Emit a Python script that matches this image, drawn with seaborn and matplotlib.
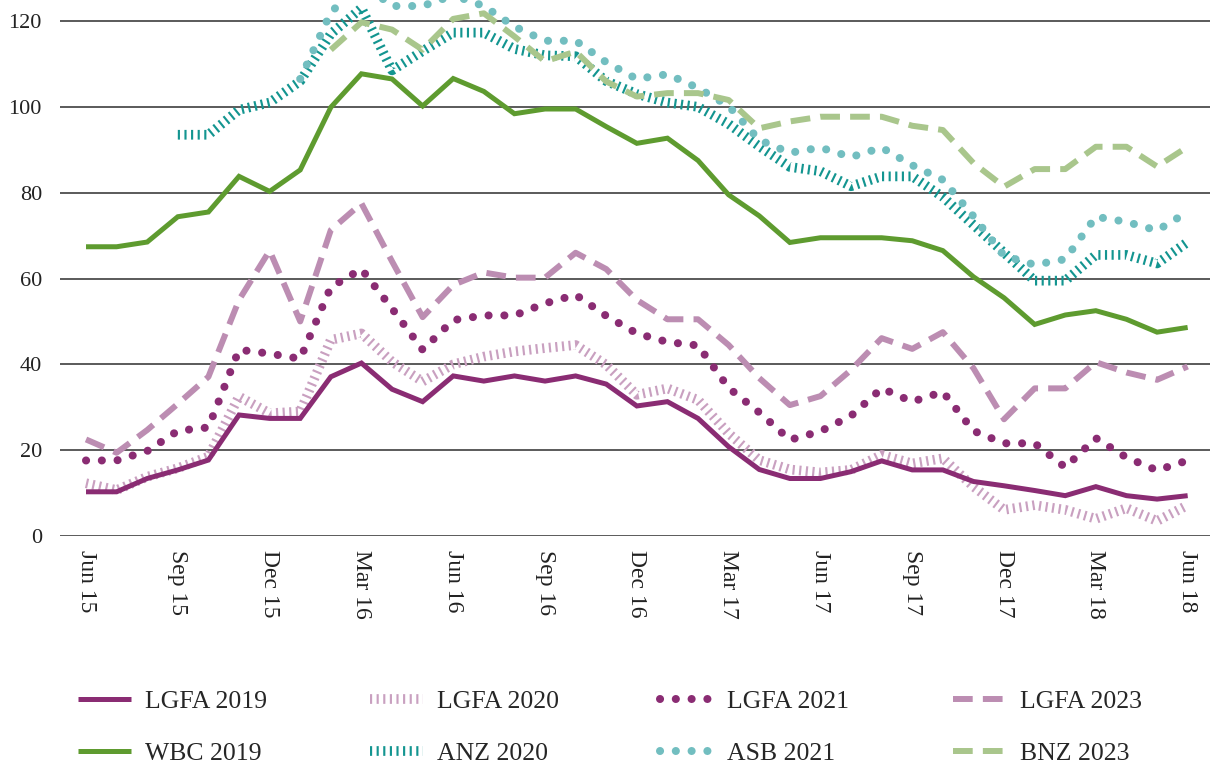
import numpy as np
import pandas as pd
import matplotlib
matplotlib.use("Agg")
import matplotlib.pyplot as plt
import seaborn as sns
from matplotlib.lines import Line2D

nan = np.nan

tick_labels = ["Jun 15", "Sep 15", "Dec 15", "Mar 16", "Jun 16", "Sep 16", "Dec 16",
               "Mar 17", "Jun 17", "Sep 17", "Dec 17", "Mar 18", "Jun 18"]

lgfa_2019 = [10.3, 10.3, 13.4, 15.4, 17.7, 28.2, 27.4, 27.4, 37.1, 40.3, 34.2, 31.3, 37.3,
             36.1, 37.3, 36.1, 37.3, 35.4, 30.3, 31.3, 27.4, 20.8, 15.5, 13.4, 13.4, 15.0,
             17.5, 15.4, 15.4, 12.7, 11.7, 10.6, 9.4, 11.5, 9.4, 8.6, 9.4]
lgfa_2020 = [12.3, 10.7, 13.8, 15.8, 18.5, 32.5, 28.6, 29.0, 45.7, 47.2, 40.6, 36.0, 40.0,
             41.8, 43.0, 43.8, 44.5, 39.9, 32.9, 34.4, 31.7, 23.9, 17.7, 15.5, 14.8, 15.4,
             18.9, 16.9, 18.1, 11.5, 6.1, 7.2, 6.1, 4.0, 6.5, 3.5, 7.2]
lgfa_2021 = [17.6, 17.6, 19.8, 24.5, 25.3, 43.4, 42.5, 41.3, 58.0, 62.2, 53.0, 43.4, 50.3,
             51.4, 51.4, 54.2, 56.2, 51.3, 47.2, 45.2, 44.4, 34.5, 28.8, 22.4, 24.4, 28.0,
             34.4, 31.3, 33.6, 24.5, 21.6, 21.6, 16.0, 22.8, 18.3, 15.3, 17.6]
lgfa_2023 = [22.5, 19.4, 24.7, 30.8, 37.1, 55.0, 66.5, 50.0, 71.3, 77.5, 64.0, 51.0, 58.5,
             61.4, 60.2, 60.2, 66.0, 62.2, 55.0, 50.5, 50.5, 44.5, 36.8, 30.5, 32.6, 38.7,
             46.1, 43.6, 47.5, 39.1, 27.2, 34.4, 34.4, 40.5, 38.1, 36.4, 39.5]
wbc_2019 = [67.4, 67.4, 68.5, 74.4, 75.5, 83.8, 80.3, 85.3, 99.9, 107.7, 106.5, 100.2, 106.6,
            103.6, 98.4, 99.5, 99.5, 95.4, 91.5, 92.7, 87.5, 79.5, 74.6, 68.4, 69.5, 69.5,
            69.5, 68.8, 66.5, 60.4, 55.5, 49.3, 51.5, 52.5, 50.5, 47.5, 48.6]
anz_2020 = [nan, nan, nan, 93.5, 93.5, 99.3, 101.0, 106.0, 117.0, 123.0, 108.5, 113.0, 117.3,
            117.3, 113.5, 112.0, 111.8, 106.0, 103.0, 101.0, 100.0, 96.0, 90.8, 86.0, 85.0,
            81.5, 83.8, 83.8, 79.0, 72.5, 66.0, 59.5, 59.5, 65.5, 65.5, 63.5, 68.5]
asb_2021 = [nan, nan, nan, nan, nan, nan, nan, 106.5, 122.0, 129.0, 123.5, 123.5, 126.0,
            123.5, 118.7, 115.4, 115.4, 110.4, 106.5, 107.6, 104.4, 100.2, 92.3, 89.3, 90.5,
            88.3, 90.5, 86.4, 83.0, 74.5, 65.3, 63.2, 64.5, 74.4, 73.2, 71.2, 75.5]
bnz_2023 = [nan, nan, nan, nan, nan, nan, nan, nan, 113.3, 119.7, 118.0, 113.3, 120.5,
            121.8, 116.4, 110.6, 112.9, 105.9, 102.4, 103.2, 103.2, 101.6, 95.0, 96.6, 97.7,
            97.7, 97.7, 95.6, 94.6, 86.9, 81.4, 85.5, 85.5, 90.7, 90.7, 86.1, 90.7]

months = np.arange(len(lgfa_2019))

sns.set_style("white")
plt.rcParams["font.family"] = ["Liberation Serif", "DejaVu Serif"]

STY = {
    "solid": dict(ls="-", lw=3.6, cap="butt"),
    "hatch": dict(ls=(0, (0.22, 0.46)), lw=7.0, cap="butt"),
    "dots": dict(ls=(0, (0.01, 1.95)), lw=5.8, cap="round"),
    "dash": dict(ls=(0, (3.3, 1.7)), lw=4.3, cap="butt"),
}

series = [
    ("ANZ 2020", anz_2020, "#139590", "hatch"),
    ("LGFA 2020", lgfa_2020, "#C9A0C0", "hatch"),
    ("LGFA 2019", lgfa_2019, "#8A2C73", "solid"),
    ("WBC 2019", wbc_2019, "#5E9B2F", "solid"),
    ("LGFA 2021", lgfa_2021, "#8A2C73", "dots"),
    ("ASB 2021", asb_2021, "#72BEC0", "dots"),
    ("LGFA 2023", lgfa_2023, "#BC8DB2", "dash"),
    ("BNZ 2023", bnz_2023, "#A9C68C", "dash"),
]

fig = plt.figure(figsize=(12.1, 7.67), dpi=100)
ax = fig.add_axes([60 / 1210, 1 - 536 / 767, 1 - 60 / 1210, 536 / 767])

handles = {}
for name, vals, color, st in series:
    df = pd.DataFrame({"month": months, "value": vals}).dropna()
    s = STY[st]
    sns.lineplot(data=df, x="month", y="value", ax=ax, color=color, linewidth=s["lw"],
                 estimator=None, sort=False, legend=False)
    line = ax.lines[-1]
    line.set_linestyle(s["ls"])
    line.set_dash_capstyle(s["cap"])
    line.set_solid_capstyle("butt")
    line.set_solid_joinstyle("miter")
    h = Line2D([0], [0], color=color, linewidth=s["lw"], linestyle=s["ls"])
    h.set_dash_capstyle(s["cap"])
    h.set_solid_capstyle("butt")
    handles[name] = h

ax.set_xlim(-0.85, 36.73)
ax.set_ylim(0, 124.9)
ax.set_yticks(range(0, 121, 20))
ax.set_xticks(range(0, 37, 3))
ax.set_xticklabels(tick_labels, rotation=-90, va="top", ha="center")
ax.set_xlabel("")
ax.set_ylabel("")
ax.tick_params(axis="both", length=0, labelsize=16, labelcolor="#222222")
ax.tick_params(axis="x", pad=10, labelsize=17)
ax.tick_params(axis="y", pad=13)
ax.yaxis.grid(True, color="#2e2e2e", linewidth=1.1)
ax.xaxis.grid(False)
ax.set_axisbelow(True)
for sp in ax.spines.values():
    sp.set_visible(False)

cols = [("LGFA 2019", "WBC 2019", 78), ("LGFA 2020", "ANZ 2020", 370),
        ("LGFA 2021", "ASB 2021", 660), ("LGFA 2023", "BNZ 2023", 953)]
for a, b, x0 in cols:
    fig.legend(handles=[handles[a], handles[b]], labels=[a, b], loc="upper left",
               bbox_to_anchor=(x0 / 1210, 1 - 690 / 767), frameon=False, fontsize=18.5,
               handlelength=2.05, handletextpad=0.55, labelspacing=1.12, borderpad=0,
               borderaxespad=0)

fig.savefig("out.png", dpi=100)
